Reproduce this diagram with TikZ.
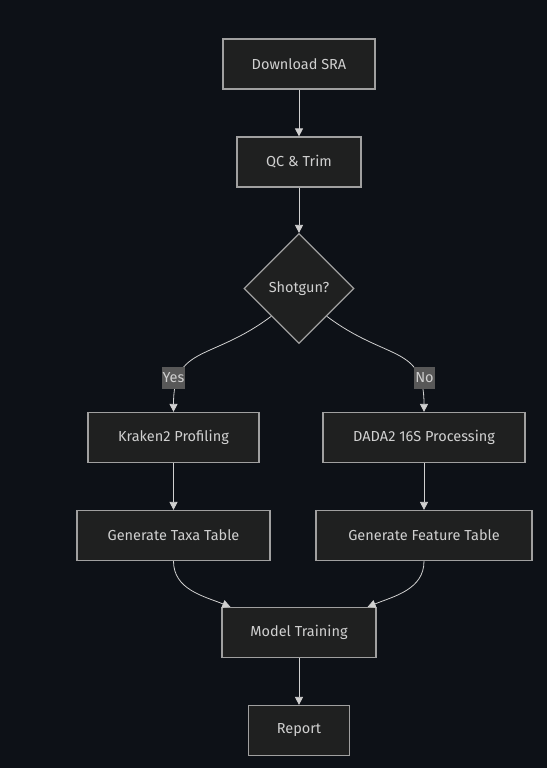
\documentclass[tikz,border=0pt]{standalone}
\usepackage{fontspec}
\setmainfont{Fira Sans}
\usetikzlibrary{shapes.geometric,arrows.meta}
\definecolor{bg}{HTML}{0D1117}
\definecolor{nodefill}{HTML}{1F2020}
\definecolor{nodeline}{HTML}{A0A0A0}
\definecolor{ink}{HTML}{D0D0D0}
\definecolor{lblfill}{HTML}{585858}

\begin{document}
\begin{tikzpicture}[x=1pt, y=-1pt, node distance=98pt, font=\fontsize{14.5}{17}\selectfont,
    box/.style = {draw=nodeline, line width=1.2pt, fill=nodefill, text=ink, minimum height=50pt, inner sep=0pt},
    decide/.style = {draw=nodeline, line width=1.2pt, fill=nodefill, text=ink, diamond, aspect=1, minimum width=110pt, minimum height=110pt, inner sep=0pt},
    lbl/.style = {fill=lblfill, text=ink, inner sep=1pt, minimum height=22pt},
    arr/.style = {draw, color=ink, line width=0.8pt, -{Triangle[width=8pt,length=8pt,fill=ink]}}]
    \useasboundingbox[fill=bg] (0,0) rectangle (547,768);
            \node[box, minimum width=152pt] (dl) at (299,64) {Download SRA};
            \node[box, minimum width=124pt] (qc) [below of=dl] {QC \& Trim};
            \node[decide] (shot) at (299,288.5) {Shotgun?};
            \node[box, minimum width=171pt] (kraken) at (173.5,437.5) {Kraken2 Profiling};
            \node[box, minimum width=202pt] (dada) at (424,437.5) {DADA2 16S Processing};
            \node[box, minimum width=193pt] (taxa) [below of=kraken] {Generate Taxa Table};
            \node[box, minimum width=216pt] (feat) [below of=dada] {Generate Feature Table};
            \node[box, minimum width=154pt] (train) at (299,632.5) {Model Training};
            \node[box, minimum width=101pt] (rep) [below of=train] {Report};
            \path
            (dl) edge[arr] (qc)
            (qc) edge[arr] (shot.north)
            (kraken) edge[arr] (taxa)
            (dada) edge[arr] (feat)
            (taxa.south) edge[arr, out=-90, in=158] ([xshift=9pt]train.north west)
            (feat.south) edge[arr, out=-90, in=22] ([xshift=-9pt]train.north east)
            (train) edge[arr] (rep);
            \draw[arr] (shot.south west) .. controls +(-60,45) and +(0,-67) .. (kraken.north);
            \draw[arr] (shot.south east) .. controls +(60,45) and +(0,-67) .. (dada.north);
            \node[lbl] (yes) at (173.5,378) {Yes};
            \node[lbl] (no) at (424.5,378) {No};
        \end{tikzpicture}
\end{document}
